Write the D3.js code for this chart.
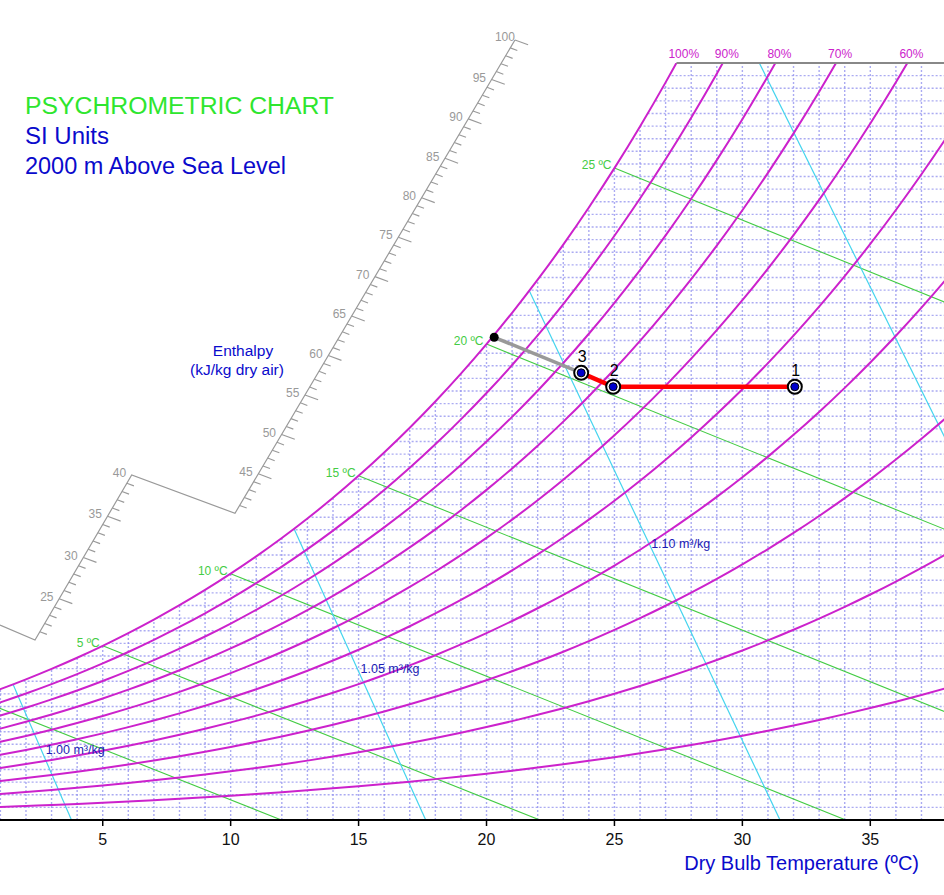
<!DOCTYPE html>
<html><head><meta charset="utf-8">
<script src="https://cdn.jsdelivr.net/npm/d3@7/dist/d3.min.js"></script>
<style>
body{margin:0;background:#fff;}
svg{display:block;font-family:"Liberation Sans",Arial,sans-serif;}
</style>
</head><body>
<svg id="chart" width="944" height="895"></svg>
<script>
// ---------------- DATA ----------------
// Saturation vapour pressure table (kPa) vs dry bulb temperature (°C)
const satTemps = [-2,-1,0,1,2,3,4,5,6,7,8,9,10,11,12,13,14,15,16,17,18,19,20,21,22,23,24,25,26,27,28,29,30,31,32,33,34,35,36,37,38,39,40,41,42,43,44,45,46,47,48,49,50];
const satPressure = [0.5275,0.5681,0.6112,0.6571,0.7060,0.7581,0.8135,0.8726,0.9354,1.0021,1.0730,1.1482,1.2282,1.3130,1.4028,1.4981,1.5990,1.7058,1.8188,1.9384,2.0647,2.1983,2.3393,2.4882,2.6453,2.8111,2.9858,3.1699,3.3639,3.5681,3.7831,4.0092,4.2470,4.4969,4.7596,5.0354,5.3251,5.6290,5.9479,6.2823,6.6328,7.0002,7.3849,7.7878,8.2096,8.6508,9.1124,9.5950,10.099,10.627,11.177,11.752,12.352];
const pressureKPa = 79.49;            // 2000 m above sea level
const rhLevels = [1.0,0.9,0.8,0.7,0.6,0.5,0.4,0.3,0.2,0.1];
const rhLabels = ["100%","90%","80%","70%","60%","50%","40%","30%","20%","10%"];
const wetBulbTemps = [0,5,10,15,20,25];
const wetBulbLabels = ["0 ºC","5 ºC","10 ºC","15 ºC","20 ºC","25 ºC"];
const volumeLevels = [1.00,1.05,1.10,1.15];
const volumeLabels = ["1.00 m³/kg","1.05 m³/kg","1.10 m³/kg",null];
const xTickValues = [5,10,15,20,25,30,35];
const enthalpyLowerLabels = [25,30,35,40];
const enthalpyUpperLabels = [45,50,55,60,65,70,75,80,85,90,95,100];
const processNames = ["1","2","3"];
const processT = [32.05,24.95,23.7];
const processW = [0.01717,0.01717,0.01772];
const saturationEnd = {T:20.3, W:0.01913};

// ---------------- LAYOUT ----------------
const WIDTH = 944, HEIGHT = 895;
const svg = d3.select("#chart");
const x = d3.scaleLinear().domain([0,35]).range([-25.2,870.3]);
const y = d3.scaleLinear().domain([0,0.03]).range([820,63]);
const W_MAX = 0.03, T_LO = -2, T_HI = 50;
const P = pressureKPa;

const C = {
  grid:"#8f8fee", rh:"#cc22cc", wb:"#44cc44", vol:"#44d4ee", enth:"#999999",
  blue:"#0a0acc", green:"#2ee62e", volText:"#1c1cb4"
};

const wFromPs = (ps,phi)=>0.622*phi*ps/(P-phi*ps);
function psAt(T){
  let i = Math.floor(T - satTemps[0]);
  i = Math.max(0, Math.min(satTemps.length-2, i));
  const f = (T - satTemps[i])/(satTemps[i+1]-satTemps[i]);
  return Math.exp(Math.log(satPressure[i])*(1-f)+Math.log(satPressure[i+1])*f);
}
const wAt = (T,phi)=>wFromPs(psAt(T),phi);
function bisect(fn,lo,hi){
  const flo = fn(lo)>0;
  for(let k=0;k<60;k++){const m=(lo+hi)/2; if((fn(m)>0)===flo) lo=m; else hi=m;}
  return (lo+hi)/2;
}
function tAtW(w,phi){
  if (w <= wAt(T_LO,phi)) return T_LO;
  if (w >= wAt(T_HI,phi)) return T_HI;
  return bisect(T=>wAt(T,phi)-w, T_LO, T_HI);
}
const tVol = (v,w)=> v*P/(0.287042*(1+1.607858*w)) - 273.15;

// ---------------- CLIPS ----------------
const defs = svg.append("defs");
defs.append("clipPath").attr("id","plotClip").append("rect")
  .attr("x", x(T_LO)).attr("y", y(W_MAX))
  .attr("width", x(T_HI)-x(T_LO)).attr("height", y(0)-y(W_MAX));
const satPts = satTemps.map((T,i)=>({T, w: wFromPs(satPressure[i],1)}));
const satArea = d3.area().x(d=>x(d.T)).y0(y(0)+20).y1(d=>y(d.w)).curve(d3.curveMonotoneX);
defs.append("clipPath").attr("id","satClip").append("path").attr("d", satArea(satPts));

const gPlot = svg.append("g").attr("clip-path","url(#plotClip)");
const gSat = gPlot.append("g").attr("clip-path","url(#satClip)");

// ---------------- GRID ----------------
const gridT = d3.range(-1, T_HI+1, 1);
const gridW = d3.range(1, 60).map(i=>i*0.0005);
gSat.append("g").selectAll("line").data(gridT).join("line")
  .attr("x1",d=>x(d)).attr("x2",d=>x(d)).attr("y1",y(0)).attr("y2",y(W_MAX))
  .attr("stroke",C.grid).attr("stroke-width",1.4).attr("stroke-dasharray","2,2").attr("opacity",0.75);
gSat.append("g").selectAll("line").data(gridW).join("line")
  .attr("x1",x(T_LO)).attr("x2",x(T_HI)).attr("y1",d=>y(d)).attr("y2",d=>y(d))
  .attr("stroke",C.grid).attr("stroke-width",1.4).attr("stroke-dasharray","2,2").attr("opacity",0.75);

// ---------------- WET BULB LINES ----------------
const line = d3.line().x(d=>x(d.T)).y(d=>y(d.w));
const wbData = wetBulbTemps.map((tw,i)=>{
  const ws = wAt(tw,1);
  const t0 = tw + (2501-2.326*tw)*ws/1.006;
  return {tw, ws, label: wetBulbLabels[i], pts:[{T:tw,w:ws},{T:t0,w:0}]};
});
gSat.append("g").selectAll("path").data(wbData).join("path")
  .attr("d",d=>line(d.pts)).attr("fill","none").attr("stroke",C.wb).attr("stroke-width",1.1);

// ---------------- VOLUME LINES ----------------
const volData = volumeLevels.map((v,i)=>({v, label: volumeLabels[i],
  pts:[{T:tVol(v,0),w:0},{T:tVol(v,W_MAX),w:W_MAX}]}));
gSat.append("g").selectAll("path").data(volData).join("path")
  .attr("d",d=>line(d.pts)).attr("fill","none").attr("stroke",C.vol).attr("stroke-width",1.2);

// ---------------- RH CURVES ----------------
const rhLine = d3.line().x(d=>x(d.T)).y(d=>y(d.w)).curve(d3.curveMonotoneX);
gPlot.append("g").selectAll("path").data(rhLevels).join("path")
  .attr("d",phi=>rhLine(satTemps.map((T,i)=>({T, w: wFromPs(satPressure[i],phi)}))))
  .attr("fill","none").attr("stroke",C.rh).attr("stroke-width",2);

// top boundary
const tTop = tAtW(W_MAX,1);
svg.append("line").attr("x1",x(tTop)).attr("x2",x(T_HI)).attr("y1",y(W_MAX)).attr("y2",y(W_MAX))
  .attr("stroke","#888").attr("stroke-width",2);

// RH labels (only those whose curve meets the top edge inside the view)
rhLevels.forEach((phi,i)=>{
  if (wAt(T_HI,phi) <= W_MAX) return;
  const t = tAtW(W_MAX,phi);
  const lx = x(t)-8;
  if (lx > WIDTH-30) return;
  svg.append("text").attr("x",lx).attr("y",y(W_MAX)-5)
    .attr("font-size",12).attr("fill",C.rh).text(rhLabels[i]);
});

// wet bulb labels
wbData.forEach(d=>{
  if (x(d.tw) < 10) return;
  svg.append("text").attr("x",x(d.tw)-3).attr("y",y(d.ws)+1)
    .attr("text-anchor","end").attr("font-size",12).attr("fill",C.wb).text(d.label);
});

// volume labels
volData.forEach(d=>{
  if(!d.label) return;
  const f = w => tVol(d.v,w) - tAtW(w,1);
  const wTop = f(W_MAX)>0 ? W_MAX : bisect(f, 0.0001, W_MAX);
  const wl = 0.525*wTop;
  svg.append("text").attr("x",x(tVol(d.v,wl))+6).attr("y",y(wl)+4.5)
    .attr("font-size",12.5).attr("fill",C.volText).text(d.label);
});

// ---------------- X AXIS ----------------
svg.append("line").attr("x1",0).attr("x2",WIDTH).attr("y1",y(0)).attr("y2",y(0))
  .attr("stroke","#000").attr("stroke-width",2);
const xt = svg.append("g");
xt.selectAll("line").data(xTickValues).join("line")
  .attr("x1",d=>x(d)).attr("x2",d=>x(d)).attr("y1",y(0)).attr("y2",y(0)+6)
  .attr("stroke","#000").attr("stroke-width",1.5);
xt.selectAll("text").data(xTickValues).join("text")
  .attr("x",d=>x(d)).attr("y",845).attr("text-anchor","middle")
  .attr("font-size",16).attr("fill","#111").text(d=>d);
svg.append("text").attr("x",919).attr("y",870).attr("text-anchor","end")
  .attr("font-size",20).attr("fill",C.blue).text("Dry Bulb Temperature (ºC)");

// ---------------- TITLES ----------------
svg.append("text").attr("x",25).attr("y",114).attr("font-size",23).attr("fill",C.green)
  .attr("textLength",309).attr("lengthAdjust","spacingAndGlyphs").text("PSYCHROMETRIC CHART");
svg.append("text").attr("x",25).attr("y",144).attr("font-size",23).attr("fill",C.blue)
  .attr("textLength",84).attr("lengthAdjust","spacingAndGlyphs").text("SI Units");
svg.append("text").attr("x",25).attr("y",174).attr("font-size",23).attr("fill",C.blue)
  .attr("textLength",261).attr("lengthAdjust","spacingAndGlyphs").text("2000 m Above Sea Level");

// ---------------- ENTHALPY SCALE ----------------
const enthLayout = {
  lower:{a:{T:2.353,w:0.007133,h:20}, b:{T:6.132,w:0.013672,h:40}},
  upper:{a:{T:10.169,w:0.012155,h:40}, b:{T:21.112,w:0.030912,h:100}},
  leftEnd:{T:0.985,w:0.007728}
};
const ge = svg.append("g");
const px = p=>[x(p.T), y(p.w)];
const dir = (()=>{const v=[0.938,0.347]; const n=Math.hypot(v[0],v[1]); return [v[0]/n,v[1]/n];})();
function segPos(seg,h){
  const A=px(seg.a), B=px(seg.b), f=(h-seg.a.h)/(seg.b.h-seg.a.h);
  return [A[0]+(B[0]-A[0])*f, A[1]+(B[1]-A[1])*f];
}
const enthPath = [px(enthLayout.leftEnd), px(enthLayout.lower.a), px(enthLayout.lower.b),
                  px(enthLayout.upper.a), px(enthLayout.upper.b)];
ge.append("path").attr("d", d3.line()(enthPath)).attr("fill","none")
  .attr("stroke",C.enth).attr("stroke-width",1.2);
function drawTicks(seg, h0, h1, labels){
  for(let h=h0; h<=h1; h++){
    const p = segPos(seg,h);
    const major = h%5===0;
    const len = major?14:7.5;
    ge.append("line").attr("x1",p[0]).attr("y1",p[1])
      .attr("x2",p[0]+dir[0]*len).attr("y2",p[1]+dir[1]*len)
      .attr("stroke",C.enth).attr("stroke-width",1.1);
  }
  labels.forEach(h=>{
    const p = segPos(seg,h);
    const off = h===100 ? 0 : 6;
    ge.append("text").attr("x",p[0]-dir[0]*off).attr("y",p[1]-dir[1]*off+(h===100?1:4.3))
      .attr("text-anchor","end").attr("font-size",12).attr("fill",C.enth).text(h);
  });
}
drawTicks(enthLayout.lower,21,39,enthalpyLowerLabels);
drawTicks(enthLayout.upper,41,100,enthalpyUpperLabels);
svg.append("text").attr("x",243).attr("y",355.5).attr("text-anchor","middle")
  .attr("font-size",15.5).attr("fill",C.blue).text("Enthalpy");
svg.append("text").attr("x",237).attr("y",374.5).attr("text-anchor","middle")
  .attr("font-size",15.5).attr("fill",C.blue).text("(kJ/kg dry air)");

// ---------------- PROCESS ----------------
const procPts = processT.map((T,i)=>({T, w:processW[i], name:processNames[i]}));
svg.append("path").attr("d", line([procPts[2], {T:saturationEnd.T, w:saturationEnd.W}]))
  .attr("stroke","#999").attr("stroke-width",3.5).attr("fill","none");
svg.append("circle").attr("cx",x(saturationEnd.T)).attr("cy",y(saturationEnd.W)).attr("r",4.5).attr("fill","#000");
svg.append("path").attr("d", line(procPts)).attr("stroke","#ff0000").attr("stroke-width",4.5)
  .attr("fill","none").attr("stroke-linejoin","round");
const gp = svg.append("g").selectAll("g").data(procPts).join("g")
  .attr("transform",d=>`translate(${x(d.T)},${y(d.w)})`);
gp.append("circle").attr("r",7).attr("fill","#fff").attr("stroke","#000").attr("stroke-width",2);
gp.append("circle").attr("r",4).attr("fill","#0000cc").attr("stroke","#000").attr("stroke-width",1);
gp.append("text").attr("x",1).attr("y",-11).attr("text-anchor","middle")
  .attr("font-size",16).attr("fill","#000").text(d=>d.name);
</script>
</body></html>
